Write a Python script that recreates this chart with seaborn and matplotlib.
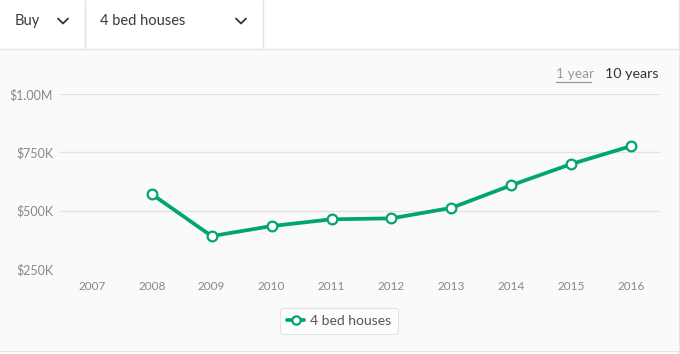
import numpy as np
import pandas as pd
import matplotlib
matplotlib.use("Agg")
import matplotlib.pyplot as plt
from matplotlib.lines import Line2D
from matplotlib.patches import Rectangle
import seaborn as sns

years = [2007, 2008, 2009, 2010, 2011, 2012, 2013, 2014, 2015, 2016]
prices = [np.nan, 571000, 391000, 434000, 463000, 467000, 512000, 609000, 700000, 777000]
series_name = "4 bed houses"
y_ticks = [250000, 500000, 750000, 1000000]
y_labels = ["$250K", "$500K", "$750K", "$1.00M"]
dropdowns = ["Buy", "4 bed houses"]
ranges = ["1 year", "10 years"]

sns.set_theme(style="white")
plt.rcParams["font.family"] = ["Lato", "DejaVu Sans"]

W, H = 680, 354
fig = plt.figure(figsize=(W / 100, H / 100), dpi=100)
fig.patch.set_facecolor("white")

def fx(px):
    return px / W

def fy(py):
    return 1 - py / H

# chart background area
fig.patches.append(Rectangle((0, fy(350)), fx(678), fy(49) - fy(350), transform=fig.transFigure,
                             facecolor="#fafafa", edgecolor="none", zorder=-5))
border = "#e4e4e4"
fig.lines.append(Line2D([0, fx(678)], [fy(48.5), fy(48.5)], transform=fig.transFigure, color=border, lw=1))
fig.lines.append(Line2D([0, fx(678)], [fy(350.5), fy(350.5)], transform=fig.transFigure, color=border, lw=1))
fig.lines.append(Line2D([fx(678.5), fx(678.5)], [0, 1], transform=fig.transFigure, color=border, lw=1))
for vx in (84.5, 262.5):
    fig.lines.append(Line2D([fx(vx), fx(vx)], [fy(48), 1], transform=fig.transFigure, color=border, lw=1))

# dropdown texts
fig.text(fx(15), fy(21), dropdowns[0], fontsize=10.5, color="#3a3a3a", va="center", ha="left")
fig.text(fx(100), fy(21), dropdowns[1], fontsize=10.5, color="#3a3a3a", va="center", ha="left")
for cx in (63, 241):
    fig.lines.append(Line2D([fx(cx - 5), fx(cx), fx(cx + 5)], [fy(18.5), fy(23.5), fy(18.5)],
                            transform=fig.transFigure, color="#333333", lw=1.3))

# range selectors
fig.text(fx(556), fy(74), ranges[0], fontsize=10, color="#9a9a9a", va="center", ha="left")
fig.lines.append(Line2D([fx(556), fx(591)], [fy(81.5), fy(81.5)], transform=fig.transFigure, color="#9a9a9a", lw=0.9))
fig.text(fx(605), fy(74), ranges[1], fontsize=10.3, color="#333333", va="center", ha="left")

# plot axes
ax = fig.add_axes([fx(60), fy(269), fx(660) - fx(60), fy(94) - fy(269)], zorder=2)
ax.set_facecolor("none")
df = pd.DataFrame({"year": years, "price": prices})
green = "#00A66C"
sns.lineplot(data=df, x="year", y="price", ax=ax, color=green, linewidth=2.7,
             marker="o", markersize=7, markerfacecolor="white", markeredgecolor=green,
             markeredgewidth=1.6, label=series_name, legend=False, clip_on=False, zorder=3)
ax.set_xlim(2006.47, 2016.48)
ax.set_ylim(250000, 1000000)
ax.set_xticks(years)
ax.set_xticklabels([str(y) for y in years])
ax.set_yticks(y_ticks)
ax.set_yticklabels(y_labels)
ax.grid(axis="y", color="#e2e2e2", linewidth=1)
ax.grid(axis="x", visible=False)
for s in ax.spines.values():
    s.set_visible(False)
ax.tick_params(axis="both", length=0, labelcolor="#888888")
ax.tick_params(axis="x", pad=9, labelsize=8.5)
ax.tick_params(axis="y", pad=5, labelsize=9)
ax.set_xlabel("")
ax.set_ylabel("")

handle = Line2D([], [], color=green, lw=2.7, marker="o", markersize=6, markerfacecolor="white",
                markeredgecolor=green, markeredgewidth=1.6)
leg = fig.legend([handle], [series_name], loc="center", bbox_to_anchor=(fx(339), fy(321)),
                 frameon=True, fontsize=10, handlelength=1.2, handletextpad=0.4,
                 borderpad=0.5, fancybox=True)
leg.get_frame().set_edgecolor("#dddddd")
leg.get_frame().set_facecolor("white")
leg.get_frame().set_linewidth(0.8)
for t in leg.get_texts():
    t.set_color("#555555")

fig.savefig("out.png", dpi=100)
